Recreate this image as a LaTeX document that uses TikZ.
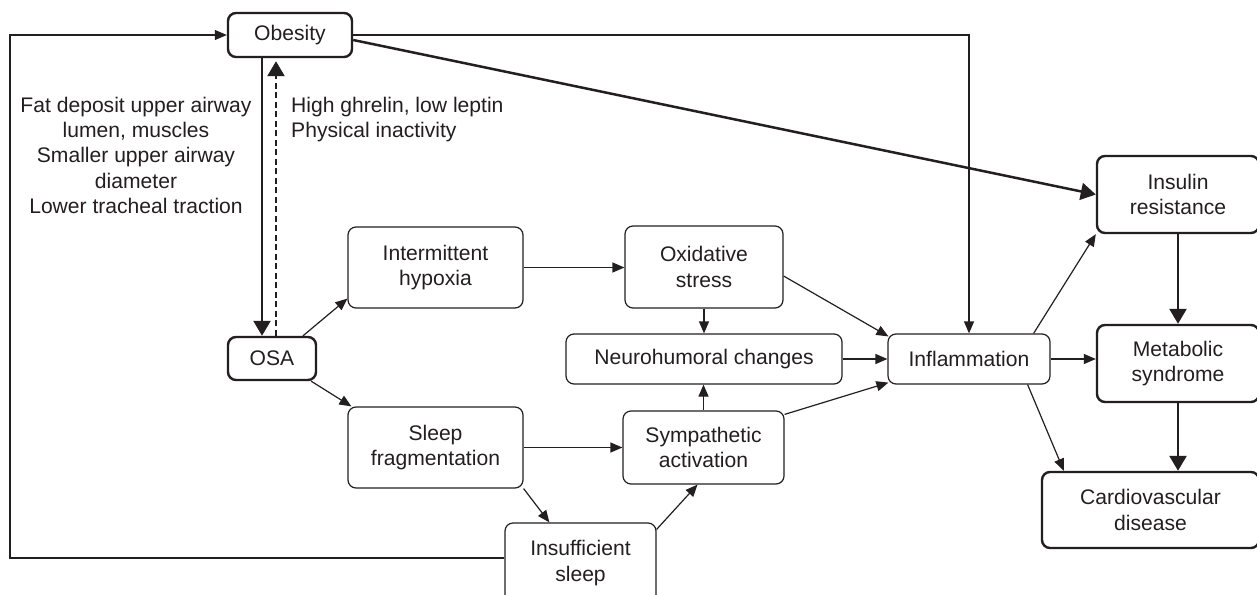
\documentclass[tikz,border=0pt]{standalone}
\usepackage{fontspec}
\setmainfont{Liberation Sans}
\usetikzlibrary{arrows.meta}
\definecolor{ink}{HTML}{231F20}
\begin{document}
\begin{tikzpicture}[x=1pt,y=-1pt,
  every node/.style={text=ink,font=\fontsize{21.1}{25.2}\selectfont},
  box/.style={draw=ink,line width=1.2pt,rounded corners=8pt,align=center,inner sep=0pt},
  boxb/.style={box,line width=2.4pt},
  arr/.style={draw=ink,line width=1.2pt,-{Triangle[length=12pt,width=10pt]}},
  arrb/.style={draw=ink,line width=2.5pt,-{Triangle[length=15pt,width=17pt]}},
  lbl/.style={inner sep=0pt}]
\clip (0,0) rectangle (1257,594);
\fill[white] (0,0) rectangle (1257,594);
% nodes
\node[boxb,minimum width=124pt,minimum height=44pt] (obesity) at (290,35) {Obesity};
\node[boxb,minimum width=88pt,minimum height=43pt] (osa) at (272,358.5) {OSA};
\node[box,minimum width=175pt,minimum height=81pt] (hyp) at (435.5,267.5) {Intermittent\\hypoxia};
\node[box,minimum width=158pt,minimum height=82pt] (oxs) at (704,267) {Oxidative\\stress};
\node[box,minimum width=276pt,minimum height=50pt] (neuro) at (704,359) {Neurohumoral changes};
\node[box,minimum width=161pt,minimum height=73pt] (symp) at (703.5,447.5) {Sympathetic\\activation};
\node[box,minimum width=175pt,minimum height=81pt] (sfrag) at (435.5,447.5) {Sleep\\fragmentation};
\node[box,minimum width=151pt,minimum height=80pt] (insuf) at (580.5,563) {Insufficient\\sleep};
\node[box,minimum width=162pt,minimum height=50pt] (infl) at (969,359) {Inflammation};
\node[boxb,minimum width=162pt,minimum height=77pt] (ins) at (1178,194.5) {Insulin\\resistance};
\node[boxb,minimum width=162pt,minimum height=77pt] (met) at (1178,363.5) {Metabolic\\syndrome};
\node[boxb,minimum width=217pt,minimum height=76pt] (cvd) at (1150.5,510) {Cardiovascular\\disease};
% labels
\node[lbl,align=center,anchor=north] (lblL) at (136,97) {Fat deposit upper airway\\lumen, muscles\\Smaller upper airway\\diameter\\Lower tracheal traction};
\node[lbl,align=left,anchor=north west] (lblR) at (291,97) {High ghrelin, low leptin\\Physical inactivity};
% feedback loop
\coordinate (fbb) at (10,558);
\coordinate (fbt) at (10,35);
\draw[arr] (insuf.west |- fbb) -- (fbb) -- (fbt) -- (obesity.west);
\draw[arr] (obesity.east) -- (obesity.east -| infl.north) -- (infl.north);
\draw[arrb] ([yshift=-5pt]obesity.east) -- (ins.west);
\draw[arrb] ([xshift=-28pt]obesity.south) -- ([xshift=-10pt]osa.north);
\draw[arrb,dash pattern=on 6pt off 3.5pt] ([xshift=4pt]osa.north) -- ([xshift=-14pt,yshift=-3pt]obesity.south);
% OSA branches
\draw[arr] ([xshift=31pt]osa.north) -- ([yshift=10pt]hyp.south west);
\draw[arr] ([xshift=-6pt]osa.south east) -- ([xshift=4pt]sfrag.north west);
\draw[arr] (hyp.east) -- (hyp.east -| oxs.west);
\draw[arr] (oxs.south) -- (neuro.north);
\draw[arr] ([yshift=-9pt]oxs.east) -- ([xshift=1pt,yshift=-3pt]infl.north west);
\draw[arr] (neuro.east) -- (neuro.east -| infl.west);
\draw[arr] (symp.north) -- (symp.north |- neuro.south);
\draw[arr] ([yshift=-4pt]symp.north east) -- ([xshift=1pt,yshift=2pt]infl.south west);
\draw[arr] (sfrag.east) -- (sfrag.east -| symp.west);
\draw[arr] (sfrag.south east) -- ([xshift=45pt]insuf.north west);
\draw[arr] ([yshift=-7pt]insuf.north east) -- ([xshift=-6pt]symp.south);
% inflammation outputs
\draw[arr] ([xshift=-17pt]infl.north east) -- (ins.south west);
\draw[arr] (infl.east) -- (infl.east -| met.west);
\draw[arr] ([xshift=-23pt]infl.south east) -- ([xshift=23pt]cvd.north west);
\draw[arrb] (ins.south) -- (met.north);
\draw[arrb] (met.south) -- (met.south |- cvd.north);
\end{tikzpicture}
\end{document}
